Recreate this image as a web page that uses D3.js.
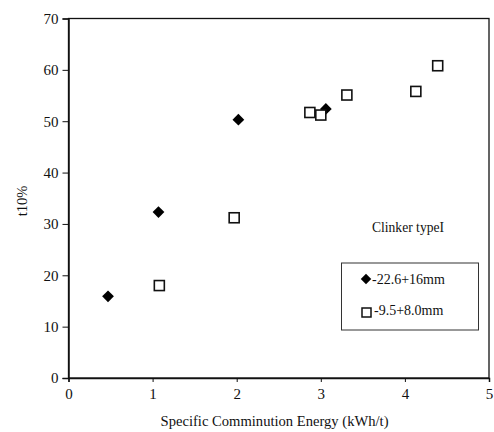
<!DOCTYPE html>
<html>
<head>
<meta charset="utf-8">
<script src="https://cdn.jsdelivr.net/npm/d3@7"></script>
<style>
  body { margin: 0; background: #fff; }
  text { font-family: "Liberation Serif", "DejaVu Serif", serif; fill: #111; }
</style>
</head>
<body>
<div id="chart"></div>
<script>
// coarse fraction -22.6+16mm
var coarseEnergy = [0.47, 1.07, 2.02, 3.06];
var coarseT10 = [15.9, 32.3, 50.3, 52.4];
// fine fraction -9.5+8.0mm
var fineEnergy = [1.08, 1.97, 2.87, 3.00, 3.31, 4.13, 4.39];
var fineT10 = [18.0, 31.2, 51.7, 51.2, 55.1, 55.8, 60.8];

var xTicks = [0, 1, 2, 3, 4, 5];
var yTicks = [0, 10, 20, 30, 40, 50, 60, 70];
var legendLabels = ["-22.6+16mm", "-9.5+8.0mm"];

var W = 494, H = 432;
var svg = d3.select("#chart").append("svg")
    .attr("width", W)
    .attr("height", H);

var x = d3.scaleLinear().domain([0, 5]).range([68.5, 489]);
var y = d3.scaleLinear().domain([0, 70]).range([378, 18.5]);

// frame
svg.append("rect")
    .attr("x", x(0)).attr("y", y(70))
    .attr("width", x(5) - x(0)).attr("height", y(0) - y(70))
    .style("fill", "none").style("stroke", "#111").style("stroke-width", 1.3);

var xAxis = svg.append("g")
    .attr("transform", "translate(0," + y(0) + ")")
    .call(d3.axisBottom(x).tickValues(xTicks).tickSize(4).tickPadding(6).tickFormat(d3.format("d")));
var yAxis = svg.append("g")
    .attr("transform", "translate(" + x(0) + ",0)")
    .call(d3.axisLeft(y).tickValues(yTicks).tickSize(6).tickPadding(4).tickFormat(d3.format("d")));

[xAxis, yAxis].forEach(function(a) {
    a.select(".domain").style("stroke", "#111").style("stroke-width", 1.5);
    a.selectAll(".tick line").style("stroke", "#111");
    a.selectAll("text").style("font-family", "Liberation Serif").style("font-size", "15px").style("fill", "#111");
});

svg.append("text")
    .attr("x", x(2.45)).attr("y", 426)
    .attr("text-anchor", "middle")
    .style("font-size", "14.6px")
    .text("Specific Comminution Energy (kWh/t)");

svg.append("text")
    .attr("transform", "translate(27,201) rotate(-90)")
    .attr("text-anchor", "middle")
    .style("font-size", "14.5px")
    .text("t10%");

var diamond = d3.symbol().type(d3.symbolDiamond2).size(88);

svg.selectAll(".coarse").data(coarseEnergy).enter()
    .append("path")
    .attr("class", "coarse")
    .attr("d", diamond)
    .attr("transform", function(d, i) { return "translate(" + x(d) + "," + y(coarseT10[i]) + ")"; })
    .style("fill", "#000");

svg.selectAll(".fine").data(fineEnergy).enter()
    .append("rect")
    .attr("class", "fine")
    .attr("x", function(d) { return x(d) - 5; })
    .attr("y", function(d, i) { return y(fineT10[i]) - 5; })
    .attr("width", 10).attr("height", 10)
    .style("fill", "#fff").style("stroke", "#111").style("stroke-width", 1.6);

svg.append("text")
    .attr("x", 408).attr("y", 232)
    .attr("text-anchor", "middle")
    .style("font-size", "13.6px")
    .text("Clinker typeI");

// legend
var legend = svg.append("g");
legend.append("rect")
    .attr("x", 341.5).attr("y", 263).attr("width", 137).attr("height", 67)
    .style("fill", "#fff").style("stroke", "#333").style("stroke-width", 1);

legend.append("path")
    .attr("d", d3.symbol().type(d3.symbolDiamond2).size(70))
    .attr("transform", "translate(366,279)")
    .style("fill", "#000");
legend.append("rect")
    .attr("x", 362).attr("y", 308).attr("width", 9).attr("height", 9)
    .style("fill", "#fff").style("stroke", "#111").style("stroke-width", 1.5);

legend.selectAll(".ltext").data(legendLabels).enter()
    .append("text")
    .attr("class", "ltext")
    .attr("x", function(d, i) { return i === 0 ? 372 : 374; })
    .attr("y", function(d, i) { return 284 + i * 31; })
    .style("font-size", "14px")
    .text(function(d) { return d; });
</script>
</body>
</html>
